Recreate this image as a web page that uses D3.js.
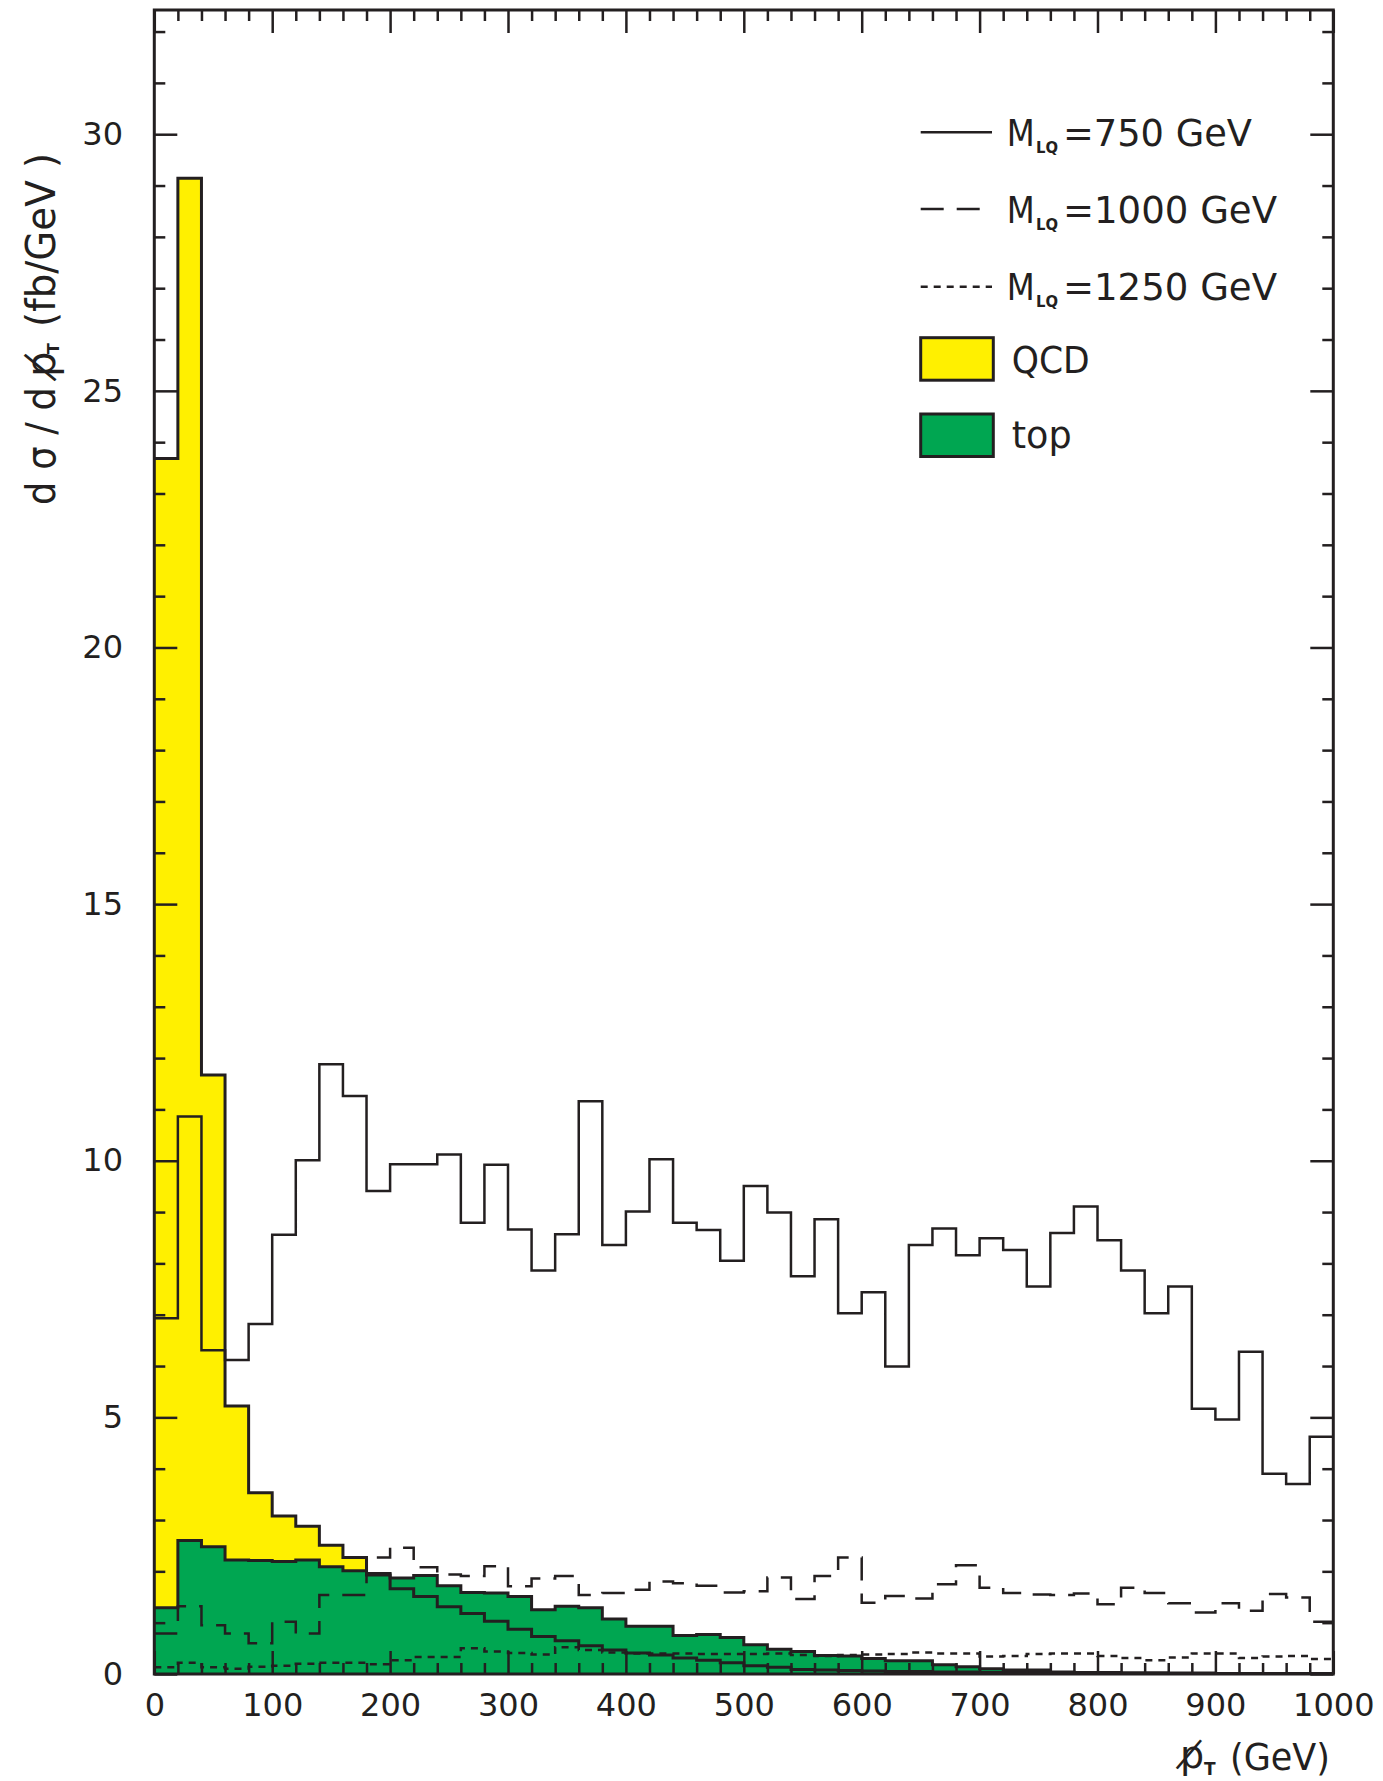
<!DOCTYPE html>
<html>
<head>
<meta charset="utf-8">
<script src="https://cdn.jsdelivr.net/npm/d3@7"></script>
<style>
  html, body { margin: 0; padding: 0; background: #ffffff; }
  svg { display: block; }
</style>
</head>
<body>
<svg id="chart" width="1383" height="1781"></svg>
<script>
// Missing transverse momentum spectra, 20 GeV bins from 0 to 1000 GeV (fb/GeV)
const binLow = d3.range(0, 1000, 20);

const qcd = [23.68, 29.14, 11.67, 5.22, 3.53, 3.08, 2.88, 2.51, 2.27, 1.96,
             1.66, 1.51, 1.31, 1.18, 1.03, 0.87, 0.73, 0.65, 0.55, 0.47,
             0.41, 0.37, 0.31, 0.27, 0.22, 0.16, 0.13, 0.09, 0.08, 0.07,
             0.06, 0.05, 0.05, 0.04, 0.04, 0.03, 0.03, 0.03, 0.02, 0.02,
             0.02, 0.02, 0.02, 0.01, 0.01, 0.01, 0.01, 0.01, 0.01, 0.01];

const topPairs = [1.29, 2.60, 2.48, 2.22, 2.21, 2.19, 2.22, 2.09, 2.01, 1.93,
                  1.87, 1.92, 1.72, 1.59, 1.58, 1.51, 1.25, 1.32, 1.29, 1.07,
                  0.93, 0.93, 0.75, 0.77, 0.71, 0.57, 0.48, 0.44, 0.36, 0.35,
                  0.30, 0.26, 0.26, 0.18, 0.14, 0.10, 0.08, 0.08, 0.04, 0.03,
                  0.03, 0.02, 0.02, 0.02, 0.02, 0.01, 0.01, 0.01, 0.01, 0.01];

const lq750 = [6.93, 10.86, 6.31, 6.12, 6.82, 8.56, 10.01, 11.88, 11.26, 9.41,
               9.93, 9.93, 10.12, 8.79, 9.92, 8.66, 7.86, 8.57, 11.16, 8.36,
               9.01, 10.03, 8.79, 8.65, 8.05, 9.51, 8.99, 7.75, 8.86, 7.03,
               7.44, 5.99, 8.36, 8.68, 8.16, 8.49, 8.26, 7.55, 8.59, 9.11,
               8.45, 7.86, 7.03, 7.55, 5.17, 4.96, 6.28, 3.90, 3.70, 4.62];

const lq1000 = [0.79, 1.32, 0.95, 0.79, 0.60, 1.02, 0.79, 1.54, 1.54, 2.27,
                2.46, 2.08, 1.94, 1.91, 2.10, 1.71, 1.86, 1.91, 1.54, 1.58,
                1.64, 1.80, 1.77, 1.72, 1.59, 1.61, 1.88, 1.46, 1.91, 2.27,
                1.39, 1.52, 1.47, 1.75, 2.12, 1.68, 1.58, 1.55, 1.54, 1.57,
                1.36, 1.68, 1.58, 1.38, 1.20, 1.38, 1.23, 1.56, 1.49, 1.02];

const lq1250 = [0.13, 0.22, 0.13, 0.10, 0.14, 0.16, 0.20, 0.22, 0.22, 0.19,
                0.27, 0.33, 0.33, 0.50, 0.44, 0.41, 0.38, 0.52, 0.47, 0.42,
                0.40, 0.40, 0.40, 0.39, 0.39, 0.39, 0.40, 0.37, 0.35, 0.37,
                0.38, 0.39, 0.42, 0.40, 0.40, 0.34, 0.35, 0.39, 0.40, 0.40,
                0.35, 0.31, 0.27, 0.32, 0.40, 0.40, 0.31, 0.34, 0.35, 0.29];

const xMajorTicks = [0, 100, 200, 300, 400, 500, 600, 700, 800, 900, 1000];
const yMajorTicks = [0, 5, 10, 15, 20, 25, 30];
const legendMasses = ["750", "1000", "1250"];
const legendFills = ["QCD", "top"];

// ---------------------------------------------------------------------------
const ink = "#231f20";
const yellow = "#fff000";
const green = "#00a651";
const font = "DejaVu Sans";

const frame = { left: 154.3, right: 1333.3, top: 10, bottom: 1674 };
const x = d3.scaleLinear().domain([0, 1000]).range([frame.left, frame.right]);
const y = d3.scaleLinear().domain([0, 32.42]).range([frame.bottom, frame.top]);

const svg = d3.select("#chart");

svg.append("defs").append("clipPath").attr("id", "plotClip")
  .append("rect")
  .attr("x", frame.left).attr("y", frame.top)
  .attr("width", frame.right - frame.left).attr("height", frame.bottom - frame.top);

// histogram contents -> step points, closing at the last upper bin edge
const steps = vals => vals.map((v, i) => [binLow[i], v]).concat([[1000, vals[vals.length - 1]]]);

const stepLine = d3.line().curve(d3.curveStepAfter)
  .x(d => x(d[0])).y(d => y(d[1]));
const stepArea = d3.area().curve(d3.curveStepAfter)
  .x(d => x(d[0])).y0(y(0)).y1(d => y(d[1]));

const plot = svg.append("g").attr("clip-path", "url(#plotClip)");

// filled backgrounds
plot.append("path").datum(steps(qcd)).attr("d", stepArea).attr("fill", yellow);
plot.append("path").datum(steps(topPairs)).attr("d", stepArea).attr("fill", green);

// background outlines
[qcd, topPairs].forEach(vals => {
  plot.append("path").datum(steps(vals)).attr("d", stepLine)
    .attr("fill", "none").attr("stroke", ink).attr("stroke-width", 3)
    .attr("stroke-linejoin", "miter");
});

// leptoquark signal curves
const signals = [
  { vals: lq750, dash: null },
  { vals: lq1000, dash: "23,13" },
  { vals: lq1250, dash: "7,6" }
];
signals.forEach(s => {
  plot.append("path").datum(steps(s.vals)).attr("d", stepLine)
    .attr("fill", "none").attr("stroke", ink).attr("stroke-width", 2.5)
    .attr("stroke-dasharray", s.dash);
});

// frame
svg.append("rect")
  .attr("x", frame.left).attr("y", frame.top)
  .attr("width", frame.right - frame.left).attr("height", frame.bottom - frame.top)
  .attr("fill", "none").attr("stroke", ink).attr("stroke-width", 3);

// inward ticks on all four sides
const yMinor = d3.range(0, 33).filter(v => v % 5 !== 0);
const xMinor = d3.range(0, 1001, 20).filter(v => v % 100 !== 0);

function tickSet(axis, transform, values, size) {
  const g = svg.append("g").attr("transform", transform)
    .call(axis.tickValues(values).tickSize(size).tickFormat(""));
  g.select(".domain").remove();
  g.selectAll(".tick line").attr("stroke", ink).attr("stroke-width", 2.5);
}
tickSet(d3.axisRight(y), `translate(${frame.left},0)`, yMinor, 11);
tickSet(d3.axisRight(y), `translate(${frame.left},0)`, yMajorTicks, 23);
tickSet(d3.axisLeft(y), `translate(${frame.right},0)`, yMinor, 11);
tickSet(d3.axisLeft(y), `translate(${frame.right},0)`, yMajorTicks, 23);
tickSet(d3.axisTop(x), `translate(0,${frame.bottom})`, xMinor, 11);
tickSet(d3.axisTop(x), `translate(0,${frame.bottom})`, xMajorTicks, 23);
tickSet(d3.axisBottom(x), `translate(0,${frame.top})`, xMinor, 11);
tickSet(d3.axisBottom(x), `translate(0,${frame.top})`, xMajorTicks, 23);

// tick labels
function labelSet(axis, transform) {
  const g = svg.append("g").attr("transform", transform).call(axis);
  g.select(".domain").remove();
  g.selectAll(".tick line").remove();
  g.attr("font-family", font).attr("font-size", 32);
  g.selectAll(".tick text").attr("fill", ink);
  return g;
}
labelSet(d3.axisLeft(y).tickValues(yMajorTicks).tickSize(0).tickPadding(31.3)
           .tickFormat(d3.format("d")),
         `translate(${frame.left},0)`);
labelSet(d3.axisBottom(x).tickValues(xMajorTicks).tickSize(0).tickPadding(19.3)
           .tickFormat(d3.format("d")),
         `translate(0,${frame.bottom})`);

// x-axis title
const xt = svg.append("g").attr("font-family", font).attr("fill", ink);
xt.append("text").attr("x", 1180).attr("y", 1768).attr("font-size", 38).text("p\u0338");
xt.append("text").attr("x", 1204).attr("y", 1775).attr("font-size", 17)
  .attr("font-weight", "bold").text("T");
xt.append("text").attr("x", 1230).attr("y", 1770).attr("font-size", 38)
  .attr("textLength", 100).attr("lengthAdjust", "spacingAndGlyphs").text("(GeV)");

// y-axis title, reading upward
const yt = svg.append("g").attr("transform", "translate(55,505) rotate(-90)")
  .attr("font-family", font).attr("fill", ink);
yt.append("text").attr("x", 0).attr("y", 0).attr("font-size", 40)
  .attr("textLength", 118).attr("lengthAdjust", "spacingAndGlyphs").text("d \u03c3 / d");
yt.append("text").attr("x", 128).attr("y", 0).attr("font-size", 40).text("p\u0338");
yt.append("text").attr("x", 151).attr("y", 4).attr("font-size", 16)
  .attr("font-weight", "bold").text("T");
yt.append("text").attr("x", 178).attr("y", 0).attr("font-size", 40)
  .attr("textLength", 174).attr("lengthAdjust", "spacingAndGlyphs").text("(fb/GeV )");

// legend
const lg = svg.append("g").attr("font-family", font).attr("fill", ink);
const legendLineY = [132.3, 209, 286.7];
const legendBase = [146, 223.3, 300];
const legendTextLen = [189, 214, 214];
legendMasses.forEach((m, i) => {
  lg.append("line")
    .attr("x1", 920.7).attr("x2", i === 1 ? 986 : 992)
    .attr("y1", legendLineY[i]).attr("y2", legendLineY[i])
    .attr("stroke", ink).attr("stroke-width", 2.5)
    .attr("stroke-dasharray", signals[i].dash);
  lg.append("text").attr("x", 1006.7).attr("y", legendBase[i]).attr("font-size", 38)
    .attr("textLength", 28).attr("lengthAdjust", "spacingAndGlyphs").text("M");
  lg.append("text").attr("x", 1036).attr("y", legendBase[i] + 7).attr("font-size", 16)
    .attr("font-weight", "bold").attr("textLength", 22).attr("lengthAdjust", "spacingAndGlyphs")
    .text("LQ");
  lg.append("text").attr("x", 1063).attr("y", legendBase[i]).attr("font-size", 38)
    .attr("textLength", legendTextLen[i]).attr("lengthAdjust", "spacingAndGlyphs")
    .text(`=${m} GeV`);
});
const boxY = [337.7, 414];
const boxFill = [yellow, green];
const boxBase = [372.7, 448];
const boxTextLen = [78, 60];
legendFills.forEach((name, i) => {
  lg.append("rect").attr("x", 920.7).attr("y", boxY[i]).attr("width", 72.6).attr("height", 42.5)
    .attr("fill", boxFill[i]).attr("stroke", ink).attr("stroke-width", 3);
  lg.append("text").attr("x", 1011.7).attr("y", boxBase[i]).attr("font-size", 38)
    .attr("textLength", boxTextLen[i]).attr("lengthAdjust", "spacingAndGlyphs").text(name);
});
</script>
</body>
</html>
